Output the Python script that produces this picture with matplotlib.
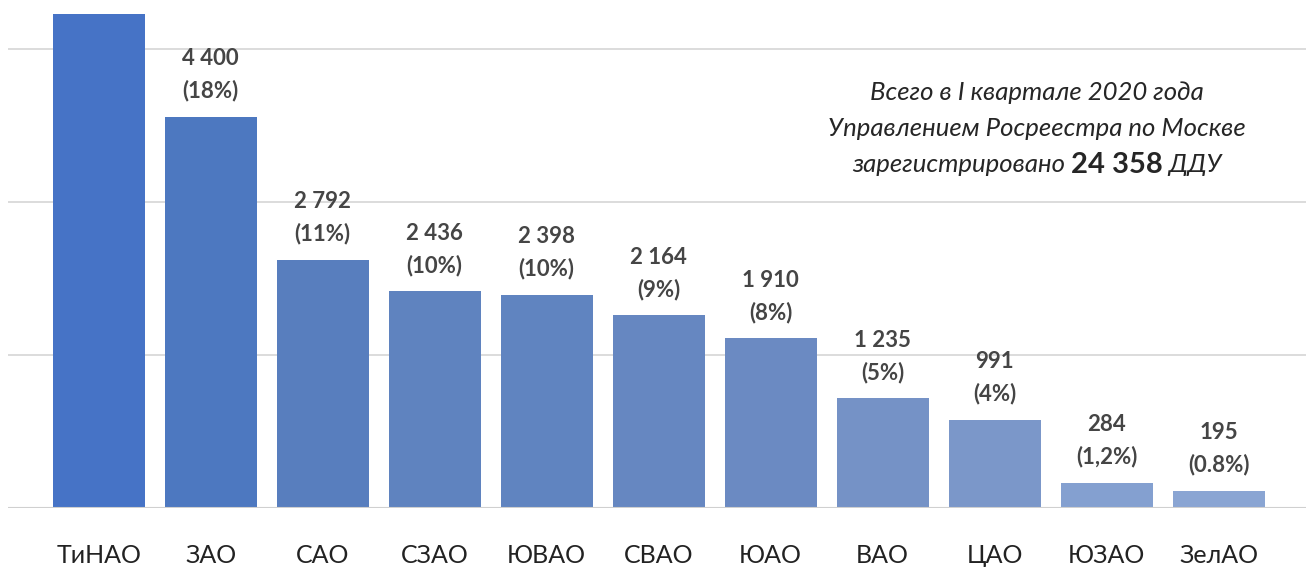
import matplotlib.pyplot as plt

# данные: ДДУ по округам Москвы, I квартал 2020
okruga = ['ТиНАО', 'ЗАО', 'САО', 'СЗАО', 'ЮВАО', 'СВАО', 'ЮАО', 'ВАО', 'ЦАО', 'ЮЗАО', 'ЗелАО']
ddu = [5553, 4400, 2792, 2436, 2398, 2164, 1910, 1235, 991, 284, 195]
podpisi = ['', '4 400\n(18%)', '2 792\n(11%)', '2 436\n(10%)', '2 398\n(10%)', '2 164\n(9%)',
           '1 910\n(8%)', '1 235\n(5%)', '991\n(4%)', '284\n(1,2%)', '195\n(0.8%)']
setka = [1720, 3440, 5160]

colors = ['#4673c6', '#4d78c0', '#587ebe', '#5f83bf', '#6084c0', '#6687c1',
          '#6b8ac2', '#7592c6', '#7b97c9', '#84a0d0', '#8aa5d3']

plt.rcParams['font.family'] = ['Lato', 'DejaVu Sans']

fig = plt.figure(figsize=(13.06, 5.76), dpi=100)
ax = fig.add_axes([8/1306, 1-508/576, 1298/1306, 496/576])

x = range(len(okruga))
ax.bar(x, ddu, width=0.82, color=colors, zorder=2)

for g in setka:
    ax.axhline(g, color='#d9d9d9', lw=1.3, zorder=1)
ax.axhline(0, color='#d0d0d0', lw=1.5, zorder=3)

for i, v in enumerate(ddu):
    if podpisi[i]:
        ax.text(i, v + 170, podpisi[i], ha='center', va='bottom', fontsize=16,
                color='#454545', weight='bold', linespacing=1.6, zorder=4)

ax.set_xlim(-0.81, 10.78)
ax.set_ylim(0, 5575)
ax.set_xticks(list(x))
ax.set_xticklabels(okruga, fontsize=18, color='#222222')
ax.tick_params(axis='x', length=0, pad=26)
ax.set_yticks([])
for s in ax.spines.values():
    s.set_visible(False)

# текст справа
cx = 1037 / 1306
fig.text(cx, 1 - 92/576, 'Всего в I квартале 2020 года', ha='center', va='center',
         fontsize=18.5, style='italic', color='#262626')
fig.text(cx, 1 - 128/576, 'Управлением Росреестра по Москве', ha='center', va='center',
         fontsize=18.5, style='italic', color='#262626')

fig.canvas.draw()
r = fig.canvas.get_renderer()
y3 = 1 - 165/576
parts = [('зарегистрировано ', dict(style='italic', fontsize=18.5)),
         ('24 358', dict(weight='bold', fontsize=21)),
         (' ДДУ', dict(style='italic', fontsize=18.5))]
texts = []
total = 0
for s, kw in parts:
    t = fig.text(0, y3, s, ha='left', va='center', color='#262626', **kw)
    w = t.get_window_extent(r).width
    texts.append((t, w))
    total += w
start = cx * 1306 - total / 2
for t, w in texts:
    t.set_x(start / 1306)
    start += w

fig.savefig('out.png', dpi=100, facecolor='white')
